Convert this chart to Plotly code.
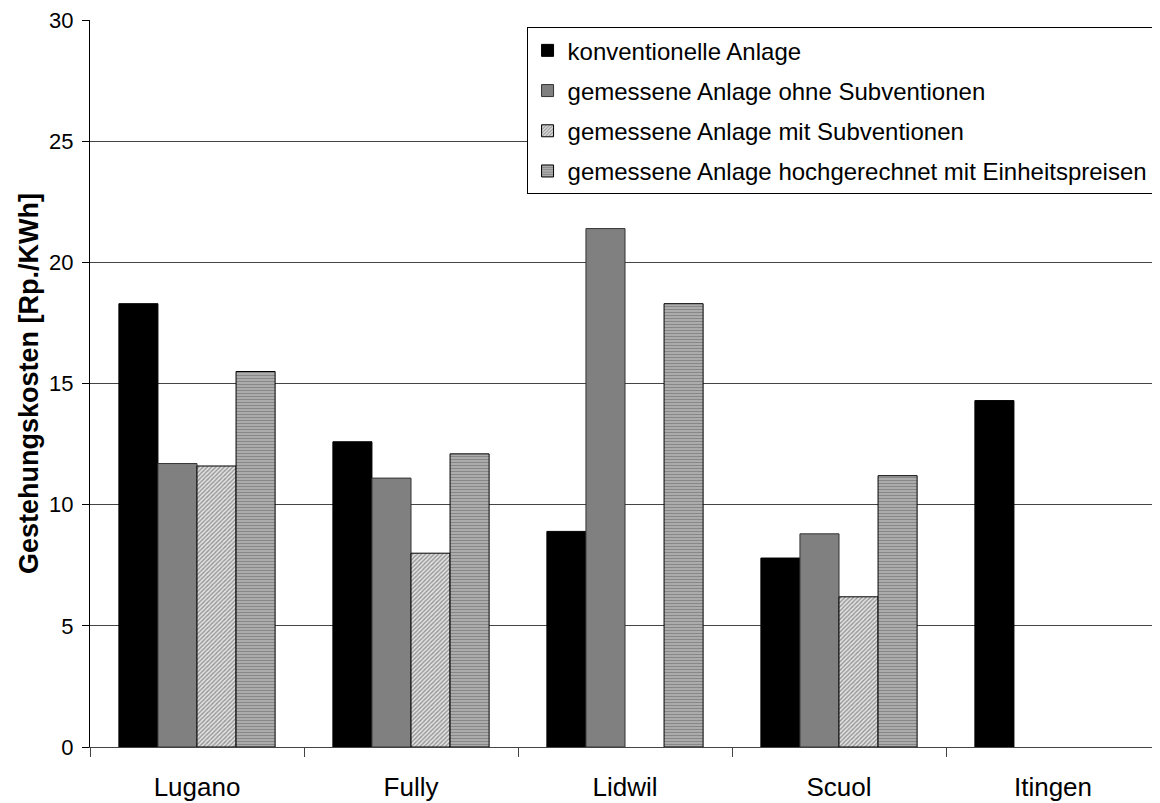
import plotly.graph_objects as go

categories = ["Lugano", "Fully", "Lidwil", "Scuol", "Itingen"]
konventionell = [18.3, 12.6, 8.9, 7.8, 14.3]
ohne_subv = [11.7, 11.1, 21.4, 8.8, None]
mit_subv = [11.6, 8.0, None, 6.2, None]
hochgerechnet = [15.5, 12.1, 18.3, 11.2, None]

names = [
    "konventionelle Anlage",
    "gemessene Anlage ohne Subventionen",
    "gemessene Anlage mit Subventionen",
    "gemessene Anlage hochgerechnet mit Einheitspreisen",
]
y_ticks = [0, 5, 10, 15, 20, 25, 30]

FONT = "Liberation Sans, Arial, sans-serif"

fig = go.Figure()
fig.add_trace(go.Bar(x=categories, y=konventionell, name=names[0], legendgroup="a",
                     marker=dict(color="black", line=dict(color="black", width=1))))
fig.add_trace(go.Bar(x=categories, y=ohne_subv, name=names[1], legendgroup="b",
                     marker=dict(color="#808080", line=dict(color="#333333", width=1))))
fig.add_trace(go.Bar(x=categories, y=mit_subv, name=names[2], legendgroup="c",
                     marker=dict(color="#c8c8c8", line=dict(color="black", width=1),
                                 pattern=dict(shape="/", fgcolor="#444444", bgcolor="#e4e4e4",
                                              size=3, solidity=0.45))))
fig.add_trace(go.Bar(x=categories, y=hochgerechnet, name=names[3], legendgroup="d",
                     marker=dict(color="#a0a0a0", line=dict(color="black", width=1),
                                 pattern=dict(shape="-", fgcolor="#555555", bgcolor="#b8b8b8",
                                              size=3, solidity=0.5))))

# page has an 8px body margin, so the figure is drawn 8px right/down
fig.update_layout(
    width=1152, height=795,
    margin=dict(l=82, r=0, t=12, b=56),
    paper_bgcolor="white", plot_bgcolor="white",
    barmode="group", bargap=0.27, bargroupgap=0,
    font=dict(family=FONT, color="black", size=22),
    legend=dict(x=0.408, y=0.99, xanchor="left", yanchor="top",
                bgcolor="white", bordercolor="black", borderwidth=1,
                font=dict(size=24, family=FONT), tracegroupgap=6,
                traceorder="grouped"),
    showlegend=True,
)
fig.update_xaxes(
    type="category", tickson="boundaries", ticks="outside", ticklen=9,
    tickcolor="#444", showline=True, linecolor="#444", linewidth=1,
    tickfont=dict(size=26, family=FONT), showgrid=False, zeroline=False,
    automargin=False, ticklabelstandoff=17,
)
fig.update_yaxes(
    range=[0, 30.01], tickvals=y_ticks, ticks="outside", ticklen=7,
    tickcolor="black", showline=True, linecolor="black", linewidth=1,
    showgrid=True, gridcolor="#444", gridwidth=1, zeroline=False,
    tickfont=dict(size=22, family=FONT), automargin=False, ticklabelstandoff=4,
    ticklabeloverflow="allow",
    title=dict(text="<b>Gestehungskosten [Rp./KWh]</b>", font=dict(size=27, family=FONT),
               standoff=2),
)

fig.write_html("out.html")
